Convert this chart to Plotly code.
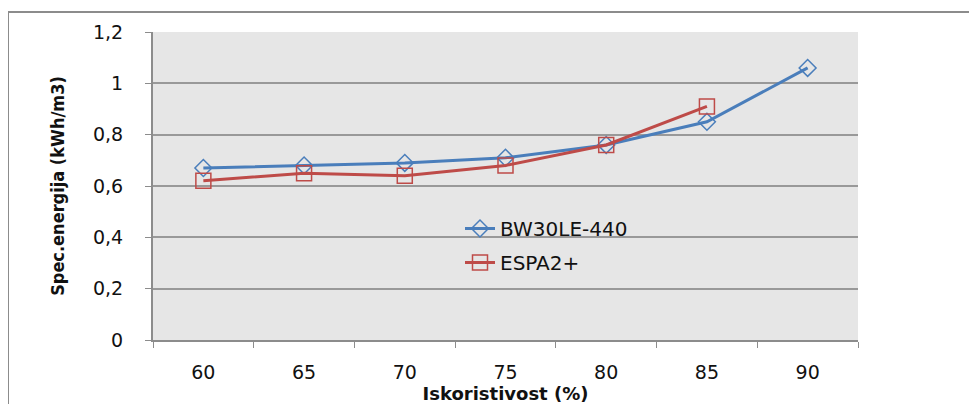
import plotly.graph_objects as go

categories = ["60", "65", "70", "75", "80", "85", "90"]
bw30_values = [0.67, 0.68, 0.69, 0.71, 0.76, 0.85, 1.06]
espa_values = [0.62, 0.65, 0.64, 0.68, 0.76, 0.91, None]
series_names = ["BW30LE-440", "ESPA2+"]
y_title = "Spec.energija (kWh/m3)"
x_title = "Iskoristivost (%)"

W, H = 977, 404
OFF = 8  # page body margin offset
L, R, T, B = 153 - OFF, 977 - 858 + OFF, 32 - OFF, 404 - 340 + OFF
pw, ph = W - L - R, H - T - B

fig = go.Figure()
fig.add_trace(go.Scatter(
    x=categories, y=bw30_values, name=series_names[0], mode="lines+markers",
    line=dict(color="#4A7EBB", width=3),
    marker=dict(symbol="diamond-open", size=13, color="#4A7EBB", line=dict(width=1.5)),
    legendgroup="a",
))
fig.add_trace(go.Scatter(
    x=categories, y=espa_values, name=series_names[1], mode="lines+markers",
    line=dict(color="#BE4B48", width=3),
    marker=dict(symbol="square-open", size=15, color="#BE4B48", line=dict(width=1.5)),
    legendgroup="b",
))

def px_x(p):
    return (p - OFF - L) / pw

def px_y(p):
    return (H - B - (p - OFF)) / ph

fig.add_shape(type="rect", xref="paper", yref="paper",
              x0=px_x(8), x1=px_x(1000), y0=px_y(12), y1=px_y(430),
              line=dict(color="#8C8C8C", width=2), fillcolor="rgba(0,0,0,0)", layer="below")

fig.update_layout(
    width=W, height=H,
    margin=dict(l=L, r=R, t=T, b=B, autoexpand=False),
    paper_bgcolor="white", plot_bgcolor="#E6E6E6",
    separators=",.",
    showlegend=True,
    legend=dict(x=px_x(460), y=px_y(209), xanchor="left", yanchor="top",
                bgcolor="rgba(0,0,0,0)", font=dict(family="DejaVu Sans", size=20, color="#111"),
                tracegroupgap=5),
    xaxis=dict(
        type="category", range=[-0.5, 6.5],
        showgrid=False, showline=True, linecolor="#8C8C8C", linewidth=2,
        ticks="outside", ticklen=6, tickcolor="#8C8C8C", tickwidth=1,
        tickson="boundaries",
        tickfont=dict(family="DejaVu Sans", size=19, color="#111"),
        ticklabelstandoff=14,
        title=dict(text=x_title, font=dict(family="DejaVu Sans", size=18, color="#111", weight="bold"), standoff=0),
    ),
    yaxis=dict(
        range=[0, 1.2], dtick=0.2,
        showgrid=True, gridcolor="#999999", gridwidth=2,
        showline=True, linecolor="#8C8C8C", linewidth=2,
        ticks="outside", ticklen=6, tickcolor="#8C8C8C",
        tickfont=dict(family="DejaVu Sans", size=19, color="#111"),
        ticklabelstandoff=18,
        zeroline=False,
        title=dict(text=y_title, font=dict(family="DejaVu Sans Condensed", size=18, color="#111", weight="bold"), standoff=24),
    ),
)

fig.write_html("out.html")
